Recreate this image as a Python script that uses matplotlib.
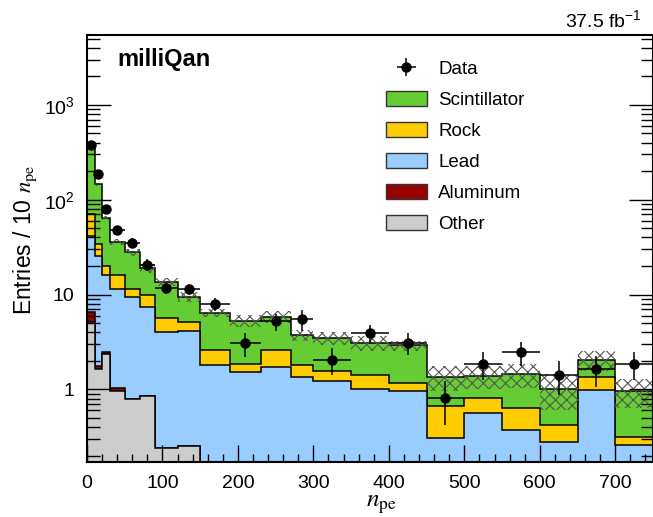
import numpy as np
import matplotlib
matplotlib.use('Agg')
import matplotlib.pyplot as plt
from matplotlib.patches import Patch
from matplotlib.ticker import FixedLocator, LogLocator, NullFormatter, MultipleLocator, FuncFormatter

plt.rcParams['font.family'] = ['Liberation Sans', 'DejaVu Sans']
plt.rcParams['mathtext.fontset'] = 'stix'
plt.rcParams['hatch.linewidth'] = 0.8

# bin edges in n_pe
edges = np.array([0, 10, 20, 30, 50, 70, 90, 120, 150, 190, 230, 270, 300,
                  350, 400, 450, 500, 550, 600, 650, 700, 750])

# simulated components (entries / 10 npe), bottom of stack first
other = [5.1, 1.63, 2.35, 0.96, 0.79, 0.85, 0.24, 0.255, 0, 0, 0,
         0, 0, 0, 0, 0, 0, 0, 0, 0, 0]
aluminum = [1.5, 0.13, 0.14, 0.08, 0.01, 0.01, 0, 0, 0, 0, 0,
            0, 0, 0, 0, 0, 0, 0, 0, 0, 0]
lead = [35.0, 23.8, 13.4, 10.5, 8.6, 6.5, 3.76, 3.9, 1.81, 1.52, 1.74,
        1.36, 1.21, 1.0, 0.95, 0.31, 0.565, 0.37, 0.275, 0.99, 0.26]
rock = [28.9, 8.4, 4.2, 4.5, 2.0, 2.5, 1.6, 1.03, 0.8, 0.32, 0.87,
        0.45, 0.36, 0.42, 0.21, 0.35, 0.25, 0.26, 0.145, 0.35, 0.058]
scint = [320, 113, 44, 20, 16.4, 9.1, 8.1, 4.3, 3.8, 3.46, 3.25,
         1.95, 1.9, 1.65, 1.74, 0.69, 0.565, 0.82, 0.6, 0.69, 0.64]
# relative uncertainty on the total
rel_unc = [0.03, 0.04, 0.05, 0.08, 0.08, 0.10, 0.10, 0.13, 0.10, 0.15, 0.14,
           0.13, 0.16, 0.18, 0.12, 0.29, 0.27, 0.28, 0.40, 0.24, 0.33]

# data
data = [375, 186, 80, 48, 35, 20.6, 11.7, 11.4, 8.0, 3.07, 5.2,
        5.5, 2.06, 3.9, 3.1, 0.82, 1.85, 2.47, 1.43, 1.64, 1.85]
data_err = [18, 13, 9, 5, 4, 3, 1.5, 1.6, 1.3, 0.9, 1.1,
            1.4, 0.65, 0.9, 0.8, 0.4, 0.6, 0.7, 0.55, 0.58, 0.6]

components = [('Other', other, '#cccccc'),
              ('Aluminum', aluminum, '#990000'),
              ('Lead', lead, '#99ccff'),
              ('Rock', rock, '#ffcc00'),
              ('Scintillator', scint, '#66cc33')]

fig = plt.figure(figsize=(6.53, 5.17), dpi=100)
ax = fig.add_axes([87 / 653, 1 - 462.3 / 517, 566 / 653, 427.6 / 517])

floor = 1e-2
cums = np.cumsum([np.array(c[1], dtype=float) for c in components], axis=0)
# draw from the top of the stack down, like a THStack
for (name, vals, col), cum in reversed(list(zip(components, cums))):
    ax.stairs(np.maximum(cum, floor), edges, baseline=floor, fill=True,
              facecolor=col, edgecolor='black', linewidth=1.1)

total = cums[-1]
unc = total * np.array(rel_unc)
ax.stairs(total + unc, edges, baseline=np.maximum(total - unc, floor), fill=True,
          facecolor='none', edgecolor='#555555', hatch='xxx', linewidth=0)

centers = 0.5 * (edges[1:] + edges[:-1])
halfw = 0.5 * np.diff(edges)
eb = ax.errorbar(centers, data, xerr=halfw, yerr=data_err, fmt='o', color='black',
                 markersize=6.5, elinewidth=1.1, capsize=0)

ax.set_yscale('log')
ax.set_xlim(0, 750)
ax.set_ylim(0.17, 5500)

ax.yaxis.set_major_locator(FixedLocator([1, 10, 100, 1000]))
ax.yaxis.set_minor_locator(LogLocator(base=10, subs=np.arange(2, 10)))
ax.yaxis.set_minor_formatter(NullFormatter())
ax.yaxis.set_major_formatter(FuncFormatter(
    lambda v, p: {1: '1', 10: '10', 100: r'$\mathregular{10^2}$',
                  1000: r'$\mathregular{10^3}$'}.get(int(round(v)), '')))
ax.xaxis.set_major_locator(MultipleLocator(100))
ax.xaxis.set_minor_locator(MultipleLocator(20))

ax.tick_params(which='both', direction='in', labelsize=14, right=True, top=False)
ax.tick_params(axis='y', which='major', length=17, width=1, pad=9)
ax.tick_params(axis='y', which='minor', length=9, width=1)
ax.tick_params(axis='x', which='major', length=12, width=1, pad=9)
ax.tick_params(axis='x', which='minor', length=6, width=1)
for s in ax.spines.values():
    s.set_linewidth(1.5)

ax.set_ylabel(r'Entries / 10 $n_{\mathrm{pe}}$', fontsize=16.5)
ax.yaxis.set_label_coords(-0.085, 0.52)
ax.set_xlabel(r'$n_{\mathrm{pe}}$', fontsize=18)
ax.xaxis.set_label_coords(0.52, -0.07)

ax.text(0.054, 0.969, 'milliQan', transform=ax.transAxes, fontsize=17,
        fontweight='bold', ha='left', va='top')
fig.text(642 / 653, 1 - 21 / 517, r'37.5 fb$^{\mathregular{-1}}$', fontsize=14,
         ha='right', va='center')

handles = [eb] + [Patch(facecolor=c[2], edgecolor='#333333', linewidth=1)
                  for c in reversed(components)]
labels = ['Data'] + [c[0] for c in reversed(components)]
ax.legend(handles, labels, loc='upper left', bbox_to_anchor=(0.528, 0.941),
          frameon=False, fontsize=13.5, handlelength=2.2, handleheight=0.9,
          labelspacing=0.68, handletextpad=0.6, borderpad=0, borderaxespad=0)

fig.savefig('out.png', dpi=100)
